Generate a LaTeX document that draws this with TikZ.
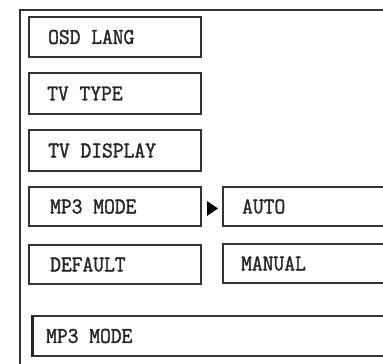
\documentclass[tikz,border=0pt]{standalone}
\usepackage{fontspec}
\newfontfamily\osdfont[FakeBold=1.6]{Latin Modern Mono}
\begin{document}
\begin{tikzpicture}[x=1pt,y=-1pt,
  box/.style={draw=black!80,line width=1.4pt},
  lbl/.style={anchor=west,inner sep=0pt,font=\osdfont\fontsize{22.5}{22.5}\selectfont,xscale=0.93,text=black!85}]
\useasboundingbox (0,0) rectangle (383,364);
\draw[box] (20,364) -- (20,10) -- (383,10);
% left column
\draw[box] (29,17) rectangle (201,57);
\node[lbl] (t1) at (48,37) {OSD LANG};
\draw[box] (29,73) rectangle (201,114);
\node[lbl] (t2) at (47,93.5) {TV TYPE};
\draw[box] (29,130) rectangle (201,171);
\node[lbl] (t3) at (48,150.5) {TV DISPLAY};
\draw[box] (29,187) rectangle (201,226);
\node[lbl] (t4) at (50,206.5) {MP3 MODE};
\draw[box] (29,245) rectangle (201,284);
\node[lbl] (t5) at (50,264.5) {DEFAULT};
% right column
\draw[box] (390,187) -- (223,187) -- (223,226) -- (390,226);
\node[lbl] (t6) at (242,206.5) {AUTO};
\draw[box] (390,244) -- (223,244) -- (223,283) -- (390,283);
\node[lbl] (t7) at (241,263.5) {MANUAL};
\fill[black] (207,201) -- (218,208.5) -- (207,216) -- cycle;
% status bar
\draw[box] (390,316) -- (32,316) -- (32,356) -- (390,356);
\draw[black!85,line width=3pt] (32.5,315.5) -- (32.5,356.5);
\node[lbl] (t8) at (46,336) {MP3 MODE};
\end{tikzpicture}
\end{document}
